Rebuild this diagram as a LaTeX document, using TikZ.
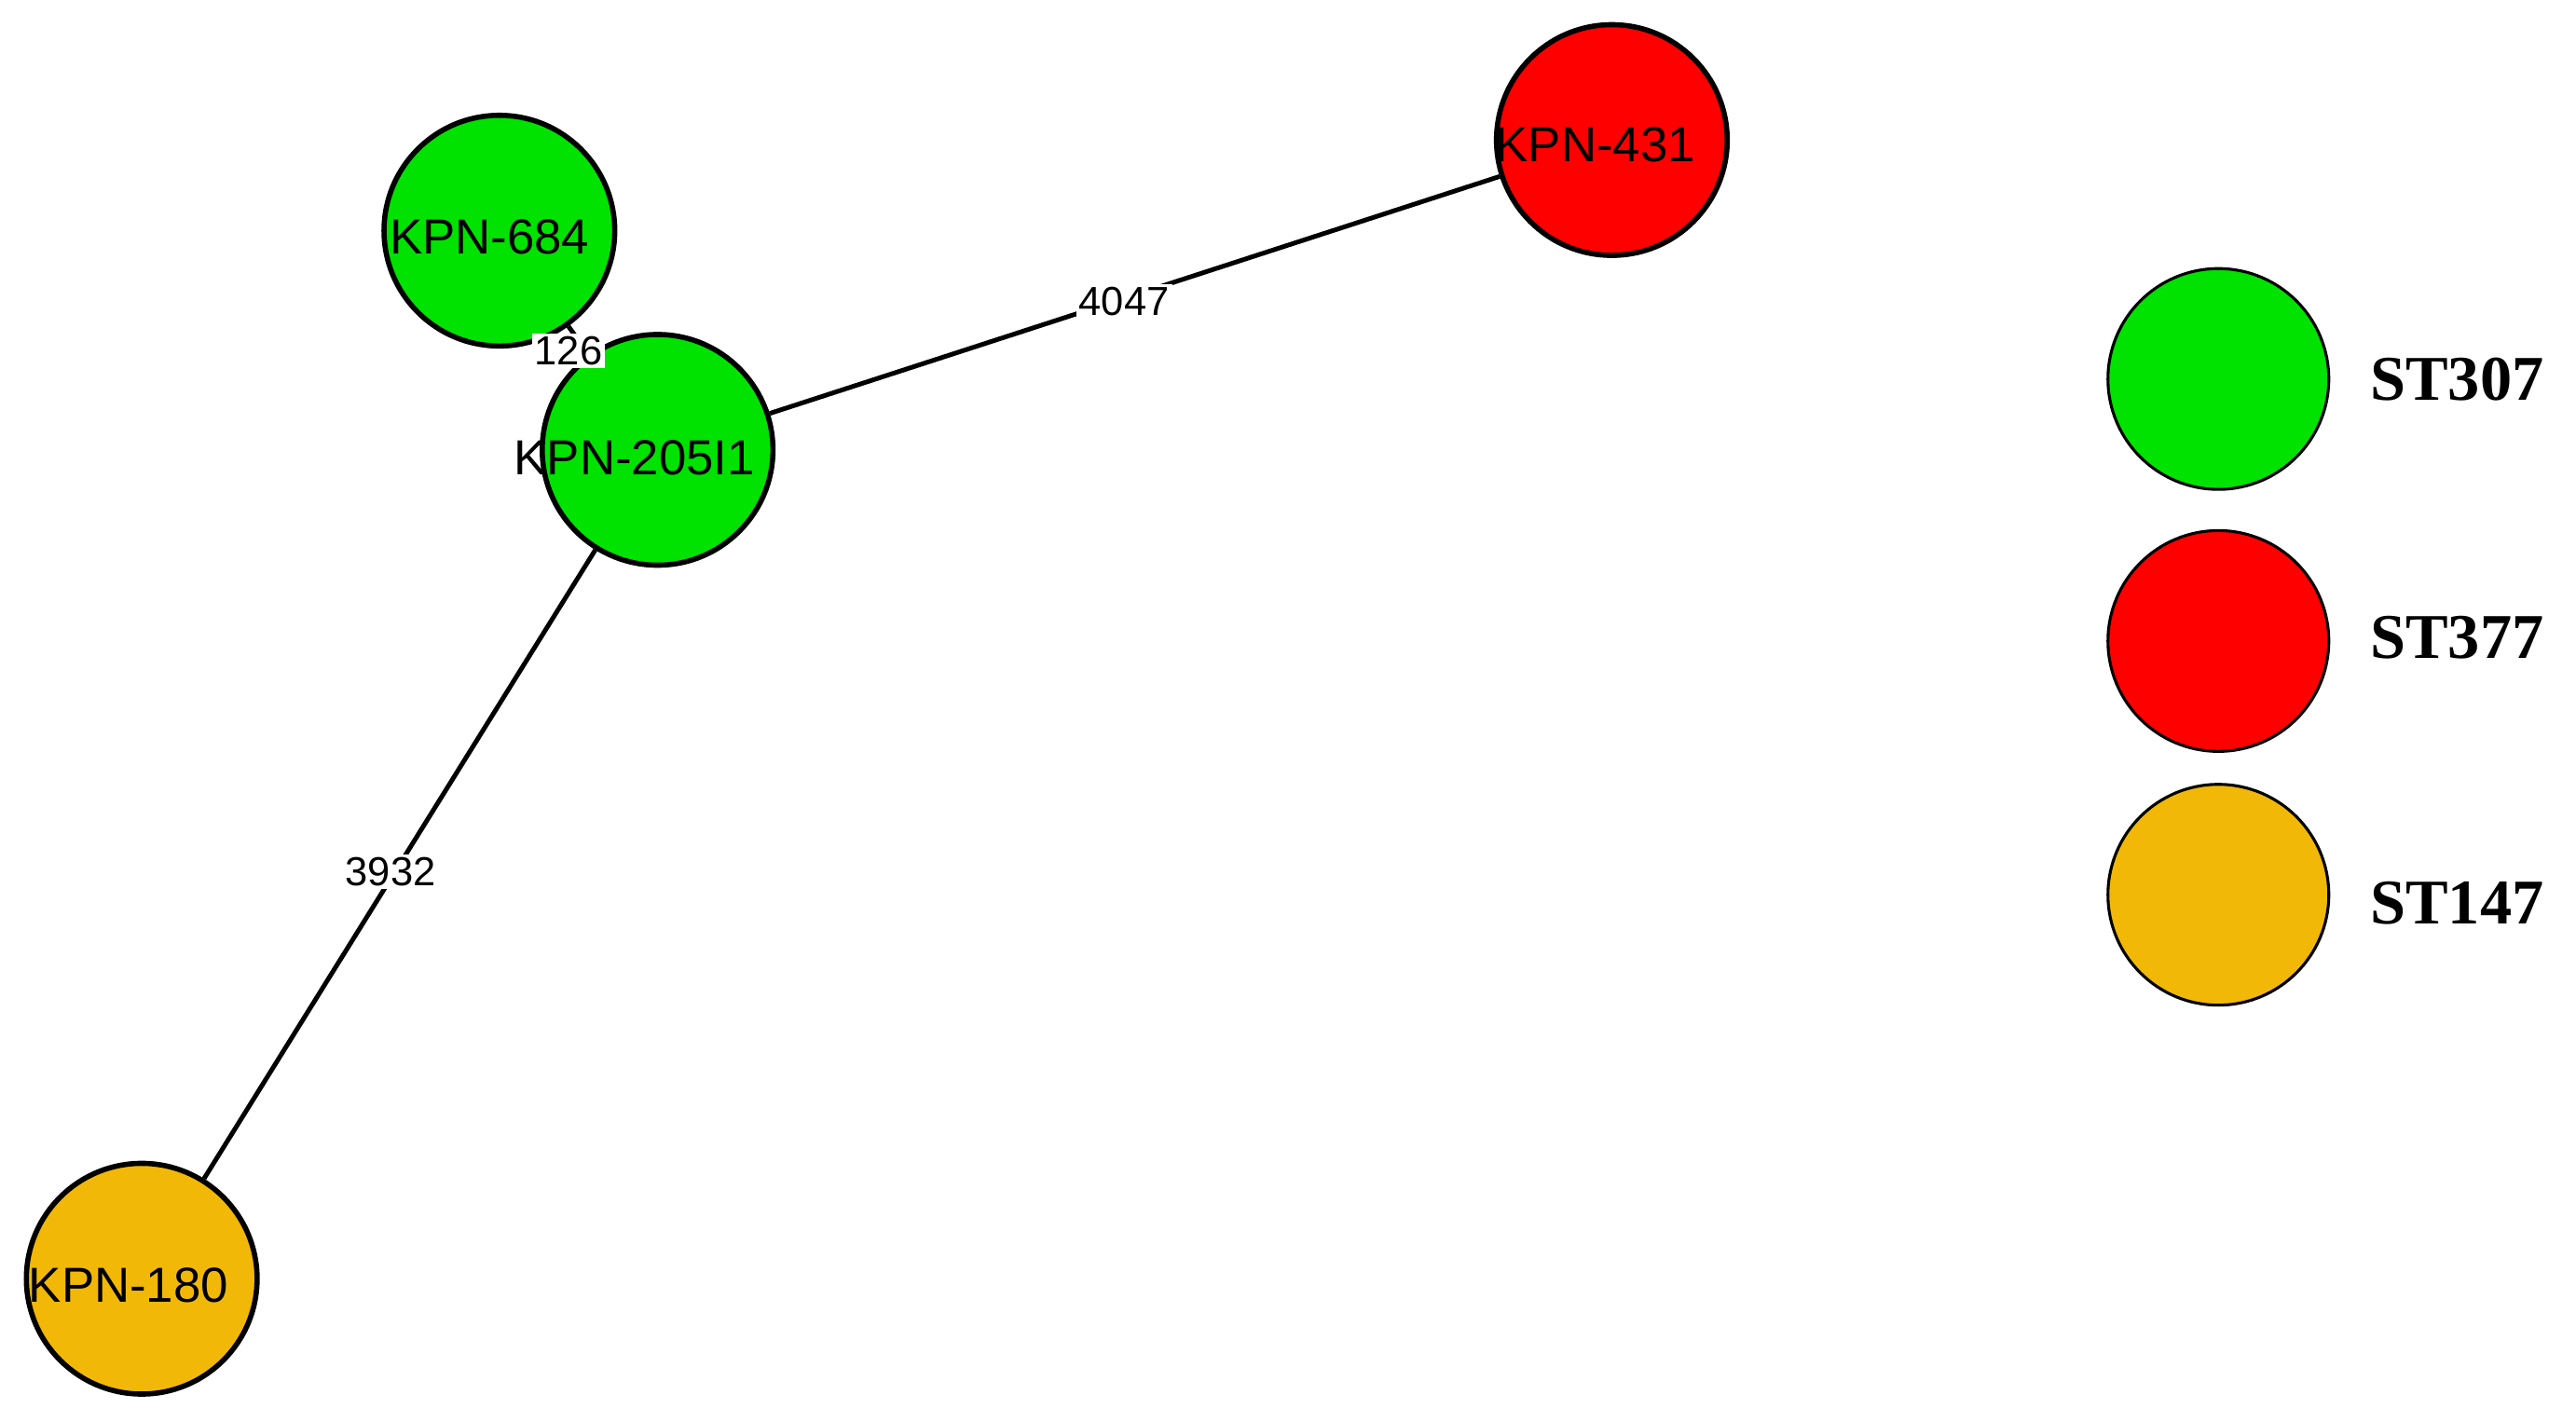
\documentclass[tikz,border=0pt]{standalone}
\usepackage{fontspec}
\setmainfont{Liberation Serif}
\newfontfamily\lab{Liberation Sans}
\definecolor{cgreen}{HTML}{00E200}
\definecolor{cred}{HTML}{FF0000}
\definecolor{corange}{HTML}{F2B807}
\begin{document}
\begin{tikzpicture}[x=0.02cm,y=0.02cm,
  iso/.style={circle,draw=black,line width=1.8pt,minimum size=140*0.02cm,inner sep=0pt,font=\lab\fontsize{17}{20}\selectfont},
  leg/.style={circle,draw=black,line width=1pt,minimum size=134*0.02cm,inner sep=0pt},
  legtext/.style={anchor=west,font=\bfseries\fontsize{22}{26}\selectfont},
  edge/.style={line width=1.6pt},
  elab/.style={fill=white,inner sep=1pt,font=\lab\fontsize{14}{16}\selectfont}]
\useasboundingbox (0,0) rectangle (1563,854);
\node[iso,fill=cgreen] (k684) at (303,714) {};
\node[iso,fill=cgreen] (k205) at (399,581) {};
\node[iso,fill=cred] (k431) at (978,769) {};
\node[iso,fill=corange] (k180) at (86,78) {};
\draw[edge] (k205) -- (k684);
\draw[edge] (k205) -- (k431);
\draw[edge] (k205) -- (k180);
\node[elab] (e1) at (345,641) {126};
\node[elab] (e2) at (682,671) {4047};
\node[elab] (e3) at (237,325) {3932};
\node[font=\lab\fontsize{17}{20}\selectfont] (t684) at (297,710) {KPN-684};
\node[font=\lab\fontsize{17}{20}\selectfont] (t205) at (385,576) {KPN-205I1};
\node[font=\lab\fontsize{17}{20}\selectfont] (t431) at (968,766) {KPN-431};
\node[font=\lab\fontsize{17}{20}\selectfont] (t180) at (78,74) {KPN-180};
\node[leg,fill=cgreen] (l1) at (1346,624) {};
\node[leg,fill=cred] (l2) at (1346,465) {};
\node[leg,fill=corange] (l3) at (1346,311) {};
\node[legtext] at (1432,624) {ST307};
\node[legtext] at (1432,467) {ST377};
\node[legtext] at (1432,306) {ST147};
\end{tikzpicture}
\end{document}
